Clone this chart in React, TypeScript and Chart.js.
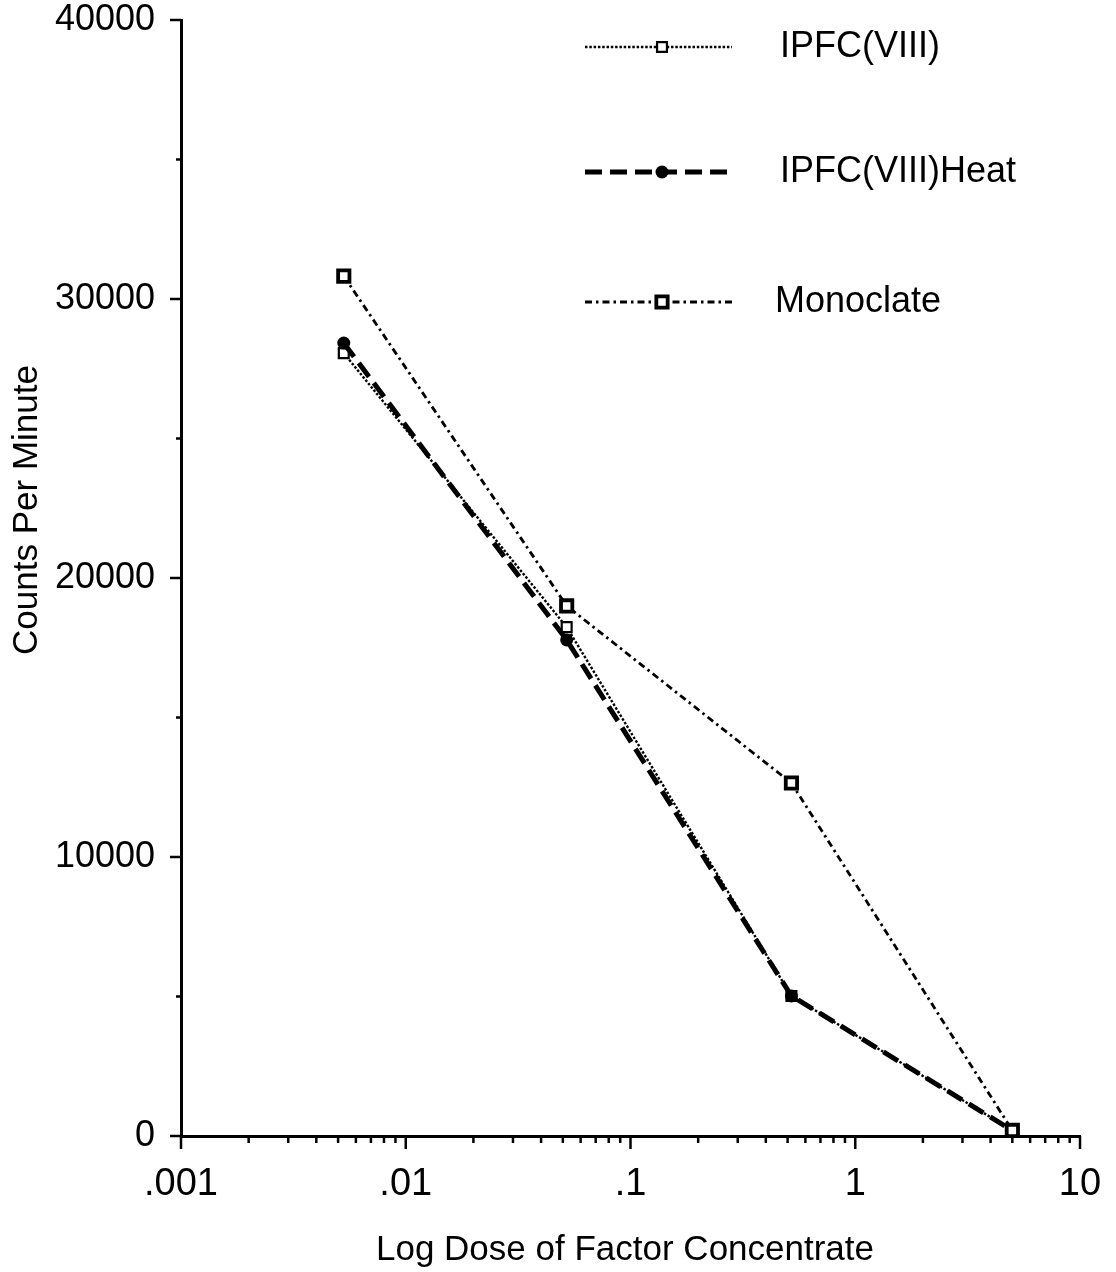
import React, { useEffect, useRef } from 'react';
import { Chart, registerables } from 'chart.js';

Chart.register(...registerables);

const doses = [0.0053, 0.052, 0.52, 5.0];
const ipfc = [28060, 18240, 5020, 200];
const ipfcHeat = [28420, 17780, 5020, 200];
const monoclate = [30820, 19000, 12650, 200];
const seriesNames = ['IPFC(VIII)', 'IPFC(VIII)Heat', 'Monoclate'];
const xTickLabels: Record<string, string> = { '-3': '.001', '-2': '.01', '-1': '.1', '0': '1', '1': '10' };
const xTitle = 'Log Dose of Factor Concentrate';
const yTitle = 'Counts Per Minute';

const FONT = '"Liberation Sans", Arial, Helvetica, sans-serif';

function drawMarker(ctx: CanvasRenderingContext2D, style: string, x: number, y: number, r: number, bw: number, bg: string) {
  ctx.save();
  ctx.setLineDash([]);
  ctx.lineWidth = bw;
  ctx.strokeStyle = '#000';
  ctx.fillStyle = bg;
  ctx.beginPath();
  if (style === 'circle') {
    ctx.arc(x, y, r, 0, Math.PI * 2);
  } else {
    const s = r * Math.SQRT1_2;
    ctx.rect(x - s, y - s, 2 * s, 2 * s);
  }
  ctx.fill();
  if (bw > 0) ctx.stroke();
  ctx.restore();
}

const extrasPlugin = {
  id: 'extras',
  afterDraw(chart: any) {
    const { ctx, chartArea, scales } = chart;
    const xs = scales.x;
    const ys = scales.y;
    ctx.save();
    ctx.strokeStyle = '#000';
    ctx.lineWidth = 2.5;
    ctx.setLineDash([]);
    // x tick marks
    for (let e = -3; e <= 1; e++) {
      for (let m = 1; m <= 9; m++) {
        const v = m * Math.pow(10, e);
        if (v > 10 + 1e-9) continue;
        const px = xs.getPixelForValue(v);
        const len = m === 1 ? 13 : 7;
        ctx.beginPath();
        ctx.moveTo(px, chartArea.bottom);
        ctx.lineTo(px, chartArea.bottom + len);
        ctx.stroke();
      }
    }
    // y tick marks
    for (let v = 0; v <= 40000; v += 5000) {
      const py = ys.getPixelForValue(v);
      const len = v % 10000 === 0 ? 11 : 5;
      ctx.beginPath();
      ctx.moveTo(chartArea.left, py);
      ctx.lineTo(chartArea.left - len, py);
      ctx.stroke();
    }
    // titles
    ctx.fillStyle = '#000';
    ctx.font = `35px ${FONT}`;
    ctx.textAlign = 'center';
    ctx.textBaseline = 'middle';
    ctx.fillText(xTitle, 625, 1250);
    ctx.save();
    ctx.translate(27, 510);
    ctx.rotate(-Math.PI / 2);
    ctx.fillText(yTitle, 0, 0);
    ctx.restore();
    // legend
    const rows = [47, 172, 302];
    chart.data.datasets.forEach((ds: any, i: number) => {
      const y = rows[i];
      ctx.save();
      ctx.lineWidth = ds.borderWidth;
      ctx.setLineDash(ds.borderDash || []);
      ctx.strokeStyle = '#000';
      ctx.beginPath();
      ctx.moveTo(585, y);
      ctx.lineTo(732, y);
      ctx.stroke();
      ctx.restore();
      drawMarker(ctx, ds.pointStyle, 662, y, ds.pointRadius, ds.pointBorderWidth, ds.pointBackgroundColor);
      ctx.fillStyle = '#000';
      ctx.font = `36px ${FONT}`;
      ctx.textAlign = 'left';
      ctx.textBaseline = 'middle';
      ctx.fillText(ds.label, i === 2 ? 775 : 780, y);
    });
    ctx.restore();
  },
};

export default function App() {
  const ref = useRef<HTMLCanvasElement>(null);
  useEffect(() => {
    document.body.style.margin = '0';
    const canvas = ref.current!;
    const chart = new Chart(canvas, {
      type: 'line',
      data: {
        datasets: [
          {
            label: seriesNames[0],
            data: doses.map((d, i) => ({ x: d, y: ipfc[i] })),
            borderColor: '#000',
            borderWidth: 2.4,
            borderDash: [2.5, 1.8],
            pointStyle: 'rect',
            pointRadius: 7,
            pointBorderWidth: 2.2,
            pointBackgroundColor: '#fff',
            pointBorderColor: '#000',
            clip: false,
            order: 1,
          },
          {
            label: seriesNames[1],
            data: doses.map((d, i) => ({ x: d, y: ipfcHeat[i] })),
            borderColor: '#000',
            borderWidth: 5,
            borderDash: [17, 8],
            pointStyle: 'circle',
            pointRadius: 6.5,
            pointBorderWidth: 0,
            pointBackgroundColor: '#000',
            pointBorderColor: '#000',
            clip: false,
            order: 0,
          },
          {
            label: seriesNames[2],
            data: doses.map((d, i) => ({ x: d, y: monoclate[i] })),
            borderColor: '#000',
            borderWidth: 2.8,
            borderDash: [7, 4, 2.5, 4],
            pointStyle: 'rect',
            pointRadius: 8,
            pointBorderWidth: 3.8,
            pointBackgroundColor: '#fff',
            pointBorderColor: '#000',
            clip: false,
            order: -1,
          },
        ] as any,
      },
      options: {
        animation: false,
        responsive: false,
        devicePixelRatio: 1,
        layout: { padding: { left: 0, top: 20, right: 36, bottom: 0 } },
        plugins: { legend: { display: false }, tooltip: { enabled: false } },
        elements: { line: { tension: 0 } },
        scales: {
          x: {
            type: 'logarithmic',
            min: 0.001,
            max: 10,
            grid: { display: false },
            border: { display: true, color: '#000', width: 3 },
            afterFit: (s: any) => {
              s.height = 136;
              s.paddingLeft = 0;
              s.paddingRight = 0;
            },
            ticks: {
              autoSkip: false,
              maxRotation: 0,
              padding: 18,
              color: '#000',
              font: { family: FONT, size: 38 },
              callback: (v: any) => {
                const l = Math.log10(Number(v));
                const r = Math.round(l);
                return Math.abs(l - r) < 1e-6 ? (xTickLabels[String(r)] ?? '') : '';
              },
            },
          },
          y: {
            type: 'linear',
            min: 0,
            max: 40000,
            grid: { display: false },
            border: { display: true, color: '#000', width: 3 },
            afterFit: (s: any) => {
              s.width = 181;
              s.paddingTop = 0;
              s.paddingBottom = 0;
            },
            ticks: {
              stepSize: 10000,
              padding: 18,
              color: '#000',
              font: { family: FONT, size: 36 },
              callback: (v: any) => String(v),
            },
          },
        },
      },
      plugins: [extrasPlugin],
    } as any);
    return () => chart.destroy();
  }, []);
  return <canvas ref={ref} width={1116} height={1272} style={{ display: 'block' }} />;
}
